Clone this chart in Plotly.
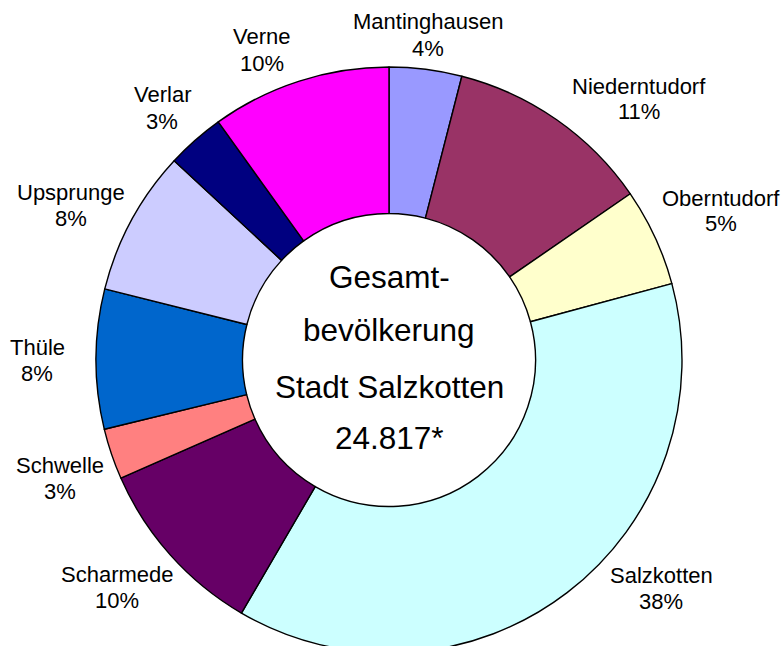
import plotly.graph_objects as go

# ---- data ----
districts = ["Mantinghausen", "Niederntudorf", "Oberntudorf", "Salzkotten", "Scharmede",
             "Schwelle", "Thüle", "Upsprunge", "Verlar", "Verne"]
shares = [4.0, 11.4, 5.4, 37.6, 10.0, 2.8, 7.7, 8.0, 3.2, 9.9]
center_lines = ["Gesamt-", "bevölkerung", "Stadt Salzkotten", "24.817*"]

# ---- styles / layout ----
colors = ["#9999FF", "#993366", "#FFFFCC", "#CCFFFF", "#660066",
          "#FF8080", "#0066CC", "#CCCCFF", "#000080", "#FF00FF"]
FONT = "Arial, Liberation Sans, sans-serif"
W, H = 782, 660          # figure slightly taller than the 646 px window; bottom is cut like the original
CX, CY, R = 389, 360, 293
# label block centres (pixels, from top-left), same order as districts
label_pos = [(428, 35), (639, 99), (721, 211), (661, 588), (117, 587),
             (60, 478), (37, 360), (71, 205), (162, 108), (262, 50)]
center_line_y = [277, 330, 387, 438]

fig = go.Figure(go.Pie(
    labels=districts,
    values=shares,
    sort=False,
    direction="clockwise",
    rotation=0,
    hole=0.5,
    marker=dict(colors=colors, line=dict(color="black", width=1.4)),
    textinfo="none",
    hoverinfo="label+percent",
    showlegend=False,
    domain=dict(x=[(CX - R) / W, (CX + R) / W],
                y=[(H - CY - R) / H, (H - CY + R) / H]),
))

total = sum(shares)
for name, v, (px, py) in zip(districts, shares, label_pos):
    pct = f"{round(v / total * 100)}%"
    for txt, dy in ((name, -13), (pct, 13)):
        fig.add_annotation(text=txt, x=px / W, y=1 - (py + dy) / H,
                           xref="paper", yref="paper", showarrow=False,
                           font=dict(family=FONT, size=22, color="black"),
                           xanchor="center", yanchor="middle")

for txt, y in zip(center_lines, center_line_y):
    fig.add_annotation(text=txt, x=CX / W, y=1 - y / H, xref="paper", yref="paper",
                       showarrow=False, font=dict(family=FONT, size=31.5, color="black"),
                       xanchor="center", yanchor="middle")

fig.update_layout(
    width=W, height=H,
    margin=dict(l=0, r=0, t=0, b=0),
    paper_bgcolor="white", plot_bgcolor="white",
    font=dict(family=FONT),
)
fig.write_html("out.html", config={"displayModeBar": False},
               post_script="document.body.style.margin='0';document.body.style.overflow='hidden';")
